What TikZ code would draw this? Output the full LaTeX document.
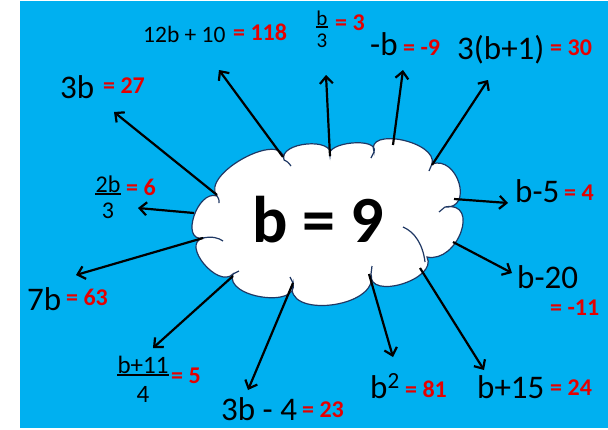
\documentclass[tikz,border=0pt]{standalone}
\usepackage{fontspec}
\setmainfont{Carlito}
\usetikzlibrary{calc,arrows.meta}
\definecolor{bgblue}{HTML}{00B0F0}
\definecolor{valred}{RGB}{230,0,0}
\definecolor{cloudline}{HTML}{1F3864}
\begin{document}
\begin{tikzpicture}[x=1pt,y=-1pt,
  expr/.style={anchor=base west,inner sep=0pt,font=\fontsize{33}{38}\selectfont},
  smallexpr/.style={anchor=base west,inner sep=0pt,font=\fontsize{23.5}{28}\selectfont},
  fracpart/.style={anchor=base,inner sep=0pt,font=\fontsize{#1}{#1}\selectfont},
  val/.style={anchor=base west,inner sep=0pt,text=valred,font=\bfseries\fontsize{24}{28}\selectfont},
  fracbar/.style={line width=1.3pt},
  ray/.style={line width=2.2pt,-{Straight Barb[length=7pt,width=13pt]}},
  cloudedge/.style={draw=cloudline,line width=1.2pt},
  bump/.style n args={3}{insert path={.. controls ($0.4633*(#1)+1.3333*(#2)-0.7967*(#3)$) and ($0.4633*(#3)+1.3333*(#2)-0.7967*(#1)$) .. (#3)}}
]
\useasboundingbox (0,0) rectangle (608,429);
\fill[white] (0,0) rectangle (608,429);
\fill[bgblue] (20,1) rectangle (608,428);

% cloud cusps and bump apexes
\coordinate (c1) at (203,238); \coordinate (m1) at (194,216);
\coordinate (c2) at (217,196); \coordinate (m2) at (244,158);
\coordinate (c3) at (284,160); \coordinate (m3) at (307,144);
\coordinate (c4) at (330,156); \coordinate (m4) at (352,143);
\coordinate (c5) at (374,152); \coordinate (m5) at (402,140);
\coordinate (c6) at (432,164); \coordinate (m6) at (459,183);
\coordinate (c7) at (445,207); \coordinate (m7) at (461,232);
\coordinate (c8) at (427,257); \coordinate (m8) at (402,284);
\coordinate (c9) at (371,274); \coordinate (m9) at (331,305);
\coordinate (c10) at (293,283); \coordinate (m10) at (262,297);
\coordinate (c11) at (233,274); \coordinate (m11) at (204,264);

\path[cloudedge,fill=white] (c1)
  [bump={c1}{m1}{c2}] [bump={c2}{m2}{c3}] [bump={c3}{m3}{c4}]
  [bump={c4}{m4}{c5}] [bump={c5}{m5}{c6}] [bump={c6}{m6}{c7}]
  [bump={c7}{m7}{c8}] [bump={c8}{m8}{c9}] [bump={c9}{m9}{c10}]
  [bump={c10}{m10}{c11}] [bump={c11}{m11}{c1}] -- cycle;

% inner arcs of the cloud
\draw[cloudedge] (c1) .. controls (212,236) and (219,238) .. (223,241);
\draw[cloudedge] (c2) .. controls (219,199) .. (219,203);
\draw[cloudedge] (c3) .. controls (288,162) .. (291,166);
\draw[cloudedge] (c5) .. controls (372,155) .. (371,158);
\draw[cloudedge] (c6) .. controls (431,168) .. (429,171);
\draw[cloudedge] (c7) .. controls (442,209) .. (439,212);
\draw[cloudedge] (403,227) .. controls (415,232) and (423,245) .. (425,262);
\draw[cloudedge] (c9) .. controls (371,270) .. (372,266);
\draw[cloudedge] (c10) .. controls (291,280) .. (290,277);
\draw[cloudedge] (c11) .. controls (236,272) .. (239,271);

\node[anchor=base west,inner sep=0pt,font=\bfseries\fontsize{66}{70}\selectfont] (main) at (252,242) {b = 9};

% arrow ends
\coordinate (t1) at (217,195);  \coordinate (p1) at (114,112);
\coordinate (t2) at (283,157);  \coordinate (p2) at (219,70);
\coordinate (t3) at (330,156);  \coordinate (p3) at (326,75);
\coordinate (t4) at (393,145);  \coordinate (p4) at (403,70);
\coordinate (t5) at (432,165);  \coordinate (p5) at (488,80);
\coordinate (t6) at (194,213);  \coordinate (p6) at (138,208);
\coordinate (t7) at (454,199);  \coordinate (p7) at (508,203);
\coordinate (t8) at (453,242);  \coordinate (p8) at (512,273);
\coordinate (t9) at (203,238);  \coordinate (p9) at (76,275);
\coordinate (t10) at (233,276); \coordinate (p10) at (153,348);
\coordinate (t11) at (293,283); \coordinate (p11) at (248,390);
\coordinate (t12) at (369,274); \coordinate (p12) at (393,357);
\coordinate (t13) at (420,268); \coordinate (p13) at (484,370);
\foreach \i in {1,...,13} \draw[ray] (t\i) -- (p\i);

% labels
\node[expr] (l3b) at (60,98) {3b};
\node[val] (v3b) at (103,93) {= 27};
\node[smallexpr] (l12b) at (143,42) {12b + 10};
\node[val] (v12b) at (233,40) {= 118};
\node[fracpart=21] (lb3n) at (322,25) {b};
\node[fracpart=21] (lb3d) at (322,47) {3};
\draw[fracbar] ($(lb3n.base west)+(0,2)$) -- ($(lb3n.base east)+(0,2)$);
\node[val] (vb3) at (335,30) {= 3};
\node[expr] (lnb) at (370,55) {-b};
\node[val] (vnb) at (403,55) {= -9};
\node[expr] (l3b1) at (457,59) {3(b+1)};
\node[val] (v3b1) at (550,55) {= 30};
\node[fracpart=24] (l2bn) at (108,192) {2b};
\node[fracpart=24] (l2bd) at (108,218) {3};
\draw[fracbar] ($(l2bn.base west)+(0,2)$) -- ($(l2bn.base east)+(0,2)$);
\node[val] (v2b) at (126,195) {= 6};
\node[expr] (lb5) at (515,202) {b-5};
\node[val] (vb5) at (564,200) {= 4};
\node[expr] (l7b) at (27,310) {7b};
\node[val] (v7b) at (66,305) {= 63};
\node[expr] (lb20) at (517,288) {b-20};
\node[val] (vb20) at (550,315) {= -11};
\node[fracpart=25] (lb11n) at (143,373) {b+11};
\node[fracpart=25] (lb11d) at (143,402) {4};
\draw[fracbar] ($(lb11n.base west)+(0,2)$) -- ($(lb11n.base east)+(0,2)$);
\node[val] (vb11) at (171,383) {= 5};
\node[expr] (l3b4) at (221,420) {3b - 4};
\node[val] (v3b4) at (302,417) {= 23};
\node[expr] (lbsq) at (370,398) {b\textsuperscript{2}};
\node[val] (vbsq) at (405,397) {= 81};
\node[expr] (lb15) at (477,398) {b+15};
\node[val] (vb15) at (550,395) {= 24};
\end{tikzpicture}
\end{document}
